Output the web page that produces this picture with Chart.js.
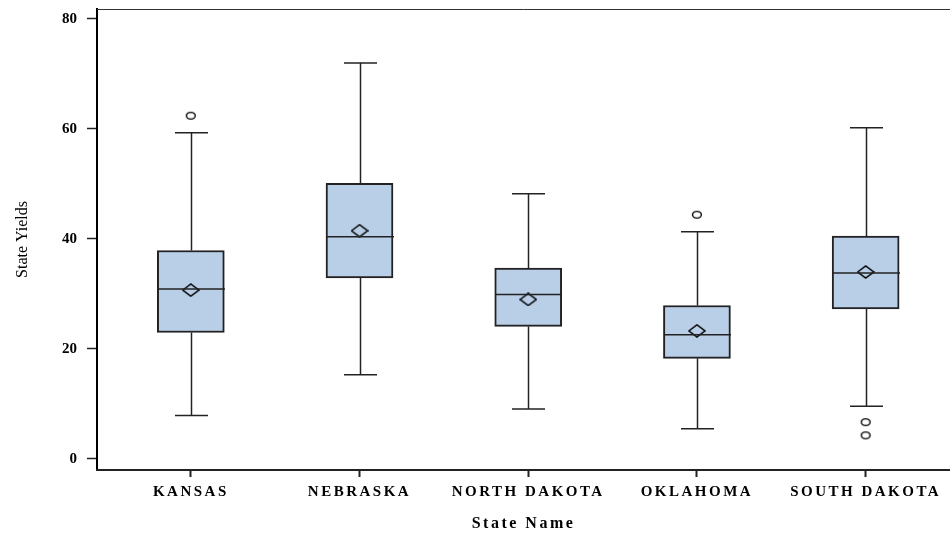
<!DOCTYPE html>
<html>
<head>
<meta charset="utf-8">
<title>State Yields by State</title>
<script src="https://cdn.jsdelivr.net/npm/chart.js@4.4.1/dist/chart.umd.min.js"></script>
<style>
  html, body { margin: 0; padding: 0; background: #fff; overflow: hidden; }
  #wrap { position: relative; width: 950px; height: 534px; }
</style>
</head>
<body>
<div id="wrap"><canvas id="chart"></canvas></div>
<script>
// Data
const categories = ['KANSAS', 'NEBRASKA', 'NORTH DAKOTA', 'OKLAHOMA', 'SOUTH DAKOTA'];
const whiskerLow = [7.9, 15.3, 9.1, 5.5, 9.6];
const q1 = [23.0, 32.9, 24.1, 18.3, 27.3];
const median = [30.9, 40.4, 29.9, 22.6, 33.8];
const q3 = [37.9, 50.1, 34.7, 27.9, 40.5];
const whiskerHigh = [59.3, 72.0, 48.2, 41.3, 60.2];
const means = [30.7, 41.5, 29.0, 23.3, 34.0];
const outliers = [[62.4], [], [], [44.4], [6.7, 4.3]];
const yTicks = [0, 20, 40, 60, 80];

const BOX_FILL = '#b9cfe7';
const INK = '#222';
const BOX_W = 67;   // px
const CAP_W = 33;   // px

// small marker images (the original is slightly stretched sideways)
function makeMarker(w, h, draw) {
    const c = document.createElement('canvas');
    c.width = w;
    c.height = h;
    const g = c.getContext('2d');
    g.strokeStyle = '#000';
    draw(g, w, h);
    return c;
}

const diamond = makeMarker(18, 14, (g, w, h) => {
    g.lineWidth = 1.5;
    g.beginPath();
    g.moveTo(1, h / 2);
    g.lineTo(w / 2, 1);
    g.lineTo(w - 1, h / 2);
    g.lineTo(w / 2, h - 1);
    g.closePath();
    g.stroke();
});

const ring = makeMarker(12, 10, (g, w, h) => {
    g.lineWidth = 1.4;
    g.beginPath();
    g.ellipse(w / 2, h / 2, 4.4, 3.4, 0, 0, Math.PI * 2);
    g.stroke();
});

const outlierPoints = [];
outliers.forEach((vals, i) => vals.forEach(v => outlierPoints.push({ x: i, y: v })));

// whiskers, caps and medians, drawn through the chart's scales
const boxParts = {
    id: 'boxParts',
    beforeDraw(chart) {
        chart.ctx.letterSpacing = '0px';
    },
    afterDatasetsDraw(chart) {
        const { ctx, scales: { x, y } } = chart;
        ctx.save();
        ctx.strokeStyle = INK;
        const seg = (x1, y1, x2, y2, lw) => {
            ctx.lineWidth = lw;
            ctx.beginPath();
            ctx.moveTo(x1, y1);
            ctx.lineTo(x2, y2);
            ctx.stroke();
        };
        categories.forEach((c, i) => {
            const cx = Math.round(x.getPixelForValue(i)) + 0.5;
            const yLo = y.getPixelForValue(whiskerLow[i]);
            const yQ1 = y.getPixelForValue(q1[i]);
            const yMed = y.getPixelForValue(median[i]);
            const yQ3 = y.getPixelForValue(q3[i]);
            const yHi = y.getPixelForValue(whiskerHigh[i]);
            seg(cx, yQ3, cx, yHi, 1.5);
            seg(cx, yQ1, cx, yLo, 1.5);
            seg(cx - CAP_W / 2, yHi, cx + CAP_W / 2, yHi, 1.5);
            seg(cx - CAP_W / 2, yLo, cx + CAP_W / 2, yLo, 1.5);
            seg(cx - BOX_W / 2, yMed, cx + BOX_W / 2, yMed, 1.5);
        });
        ctx.restore();
        // the x axis layers (z 1, drawn after this) use wide lettering like the original
        ctx.letterSpacing = '2.5px';
    },
    afterDraw(chart) {
        const { ctx, chartArea } = chart;
        ctx.letterSpacing = '0px';
        ctx.save();
        ctx.strokeStyle = '#333';
        ctx.lineWidth = 1;
        ctx.beginPath();
        ctx.moveTo(chartArea.left, chartArea.top + 0.5);
        ctx.lineTo(chartArea.right, chartArea.top + 0.5);
        ctx.stroke();
        ctx.restore();
    }
};

const serif = "'Liberation Serif', 'Times New Roman', serif";

new Chart(document.getElementById('chart'), {
    type: 'bar',
    data: {
        datasets: [
            {
                type: 'scatter',
                label: 'Mean',
                data: categories.map((c, i) => ({ x: i, y: means[i] })),
                pointStyle: diamond,
                order: 1
            },
            {
                type: 'scatter',
                label: 'Outliers',
                data: outlierPoints,
                pointStyle: ring,
                order: 2
            },
            {
                label: 'Box',
                data: categories.map((c, i) => ({ x: i, y: [q1[i], q3[i]] })),
                backgroundColor: BOX_FILL,
                borderColor: INK,
                borderWidth: 2,
                borderSkipped: false,
                barThickness: BOX_W,
                order: 3
            }
        ]
    },
    options: {
        responsive: true,
        maintainAspectRatio: false,
        animation: false,
        layout: { autoPadding: false, padding: { top: 9, right: 0, bottom: 0, left: 0 } },
        plugins: {
            legend: { display: false },
            tooltip: { enabled: false }
        },
        scales: {
            x: {
                type: 'linear',
                min: -0.556,
                max: 4.5,
                offset: false,
                afterFit: axis => {
                    axis.height = 64;
                    axis.paddingLeft = 0;
                    axis.paddingRight = 0;
                },
                afterBuildTicks: axis => {
                    axis.ticks = categories.map((c, i) => ({ value: i }));
                },
                grid: {
                    display: true,
                    offset: false,
                    drawOnChartArea: false,
                    drawTicks: true,
                    tickLength: 7,
                    tickWidth: 2,
                    tickColor: INK,
                    z: 1
                },
                border: { display: true, color: INK, width: 2, z: 1 },
                ticks: {
                    autoSkip: false,
                    maxRotation: 0,
                    padding: 6,
                    color: '#000',
                    font: { family: serif, size: 15, weight: 'bold' },
                    callback: v => categories[v],
                    z: 1
                },
                title: {
                    display: true,
                    text: 'State Name',
                    color: '#000',
                    font: { family: serif, size: 16, weight: 'bold' },
                    padding: { top: 0, bottom: 1 }
                }
            },
            y: {
                type: 'linear',
                min: -2,
                max: 81.8,
                afterFit: axis => {
                    axis.width = 97;
                    axis.paddingTop = 0;
                    axis.paddingBottom = 0;
                },
                afterBuildTicks: axis => {
                    axis.ticks = yTicks.map(v => ({ value: v }));
                },
                grid: {
                    display: true,
                    drawOnChartArea: false,
                    drawTicks: true,
                    tickLength: 10,
                    tickWidth: 1.5,
                    tickColor: INK
                },
                border: { display: true, color: '#000', width: 2 },
                ticks: {
                    padding: 10,
                    color: '#000',
                    font: { family: serif, size: 15, weight: 'bold' }
                },
                title: {
                    display: true,
                    text: 'State Yields',
                    color: '#000',
                    font: { family: serif, size: 16 },
                    padding: { top: 13, bottom: 0 }
                }
            }
        }
    },
    plugins: [boxParts]
});
</script>
</body>
</html>
